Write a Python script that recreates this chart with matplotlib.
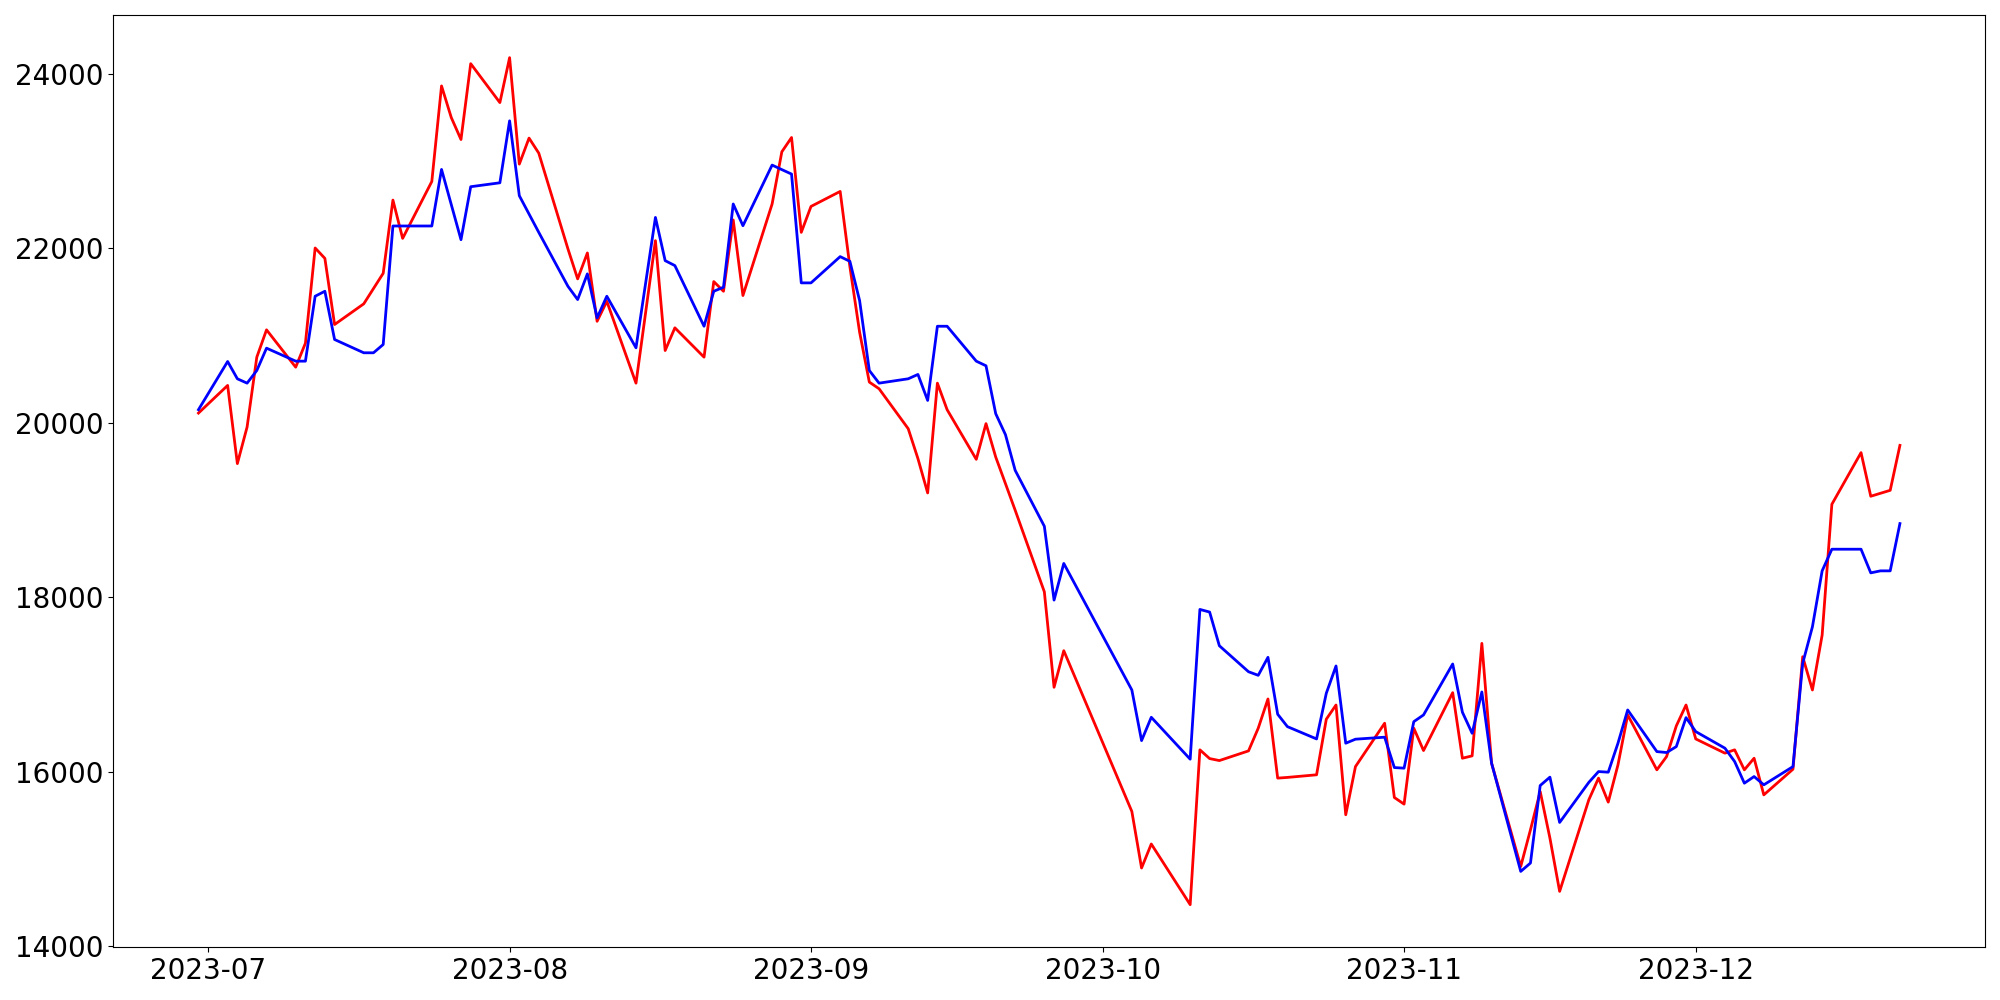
import matplotlib
matplotlib.use("Agg")
import matplotlib.pyplot as plt
import pandas as pd

# KRX trading days 2023-06-30 .. 2023-12-22 (market holidays dropped)
holidays = ["2023-08-15", "2023-09-28", "2023-09-29", "2023-10-02", "2023-10-03", "2023-10-09"]
dates = pd.bdate_range("2023-06-30", "2023-12-22")
dates = dates[~dates.isin(pd.to_datetime(holidays))]

actual = [
    20110,
    20427, 19531, 19950, 20751, 21064, 20636, 20911, 22002, 21883, 21125,
    21362, 21537, 21712, 22551, 22112, 22764, 23859, 23497, 23245, 24114, 23668,
    24183, 22963, 23261, 23089, 21992, 21648, 21945, 21162, 21391, 20453,
    22086, 20827, 21087, 20751, 21617, 21506, 22323, 21457, 22506, 23104, 23268, 22181,
    22478, 22650, 21788, 21037, 20465, 20389, 19931, 19588, 19195, 20453,
    20149, 19580, 19989, 19606, 19302, 18997, 18062, 16968, 17387,
    15545, 14897, 15172, 14477, 16251, 16151, 16128, 16239, 16499, 16834,
    15927, 15935, 15965, 16602, 16765, 15507, 16059, 16556, 15705,
    15629, 16499, 16243, 16906, 16155, 16182, 17471, 16098, 14915, 15335,
    15773, 15240, 14629, 15678, 15927, 15652, 16079, 16651, 16022, 16174, 16525, 16765,
    16376, 16213, 16251, 16022, 16155, 15735, 16029, 17318, 16937, 17566,
    19065, 19657, 19157, 19191, 19225, 19740,
]

predicted = [
    20149,
    20701, 20503, 20453, 20598, 20854, 20705, 20705, 21449, 21506, 20953,
    20801, 20801, 20896, 22254, 22254, 22254, 22902, 22500, 22097, 22704, 22749,
    23459, 22601, 22391, 22181, 21563, 21411, 21705, 21201, 21449, 20858,
    22352, 21857, 21800, 21105, 21506, 21552, 22506, 22257, 22952, 22900, 22849, 21602,
    21602, 21903, 21849, 21399, 20598, 20453, 20503, 20553, 20255, 21105,
    21105, 20705, 20652, 20103, 19863, 19454, 18813, 17967, 18387,
    16937, 16357, 16624, 16144, 17860, 17830, 17444, 17146, 17105, 17311,
    16659, 16517, 16376, 16899, 17212, 16327, 16373, 16396, 16048,
    16041, 16574, 16651, 17235, 16682, 16441, 16914, 16098, 14858, 14954,
    15842, 15938, 15419, 15878, 16002, 15995, 16327, 16708, 16231, 16220, 16288, 16620,
    16460, 16270, 16117, 15869, 15945, 15850, 16059, 17243, 17661, 18302,
    18550, 18550, 18279, 18302, 18302, 18844,
]

fig, ax = plt.subplots(figsize=(20, 10), dpi=100)
ax.plot(dates, actual, color="red", linewidth=2)
ax.plot(dates, predicted, color="blue", linewidth=2)
ax.tick_params(labelsize=20)

fig.subplots_adjust(left=0.0567, right=0.9925, top=0.9847, bottom=0.053)
plt.savefig("out.png", dpi=100)
plt.close()
